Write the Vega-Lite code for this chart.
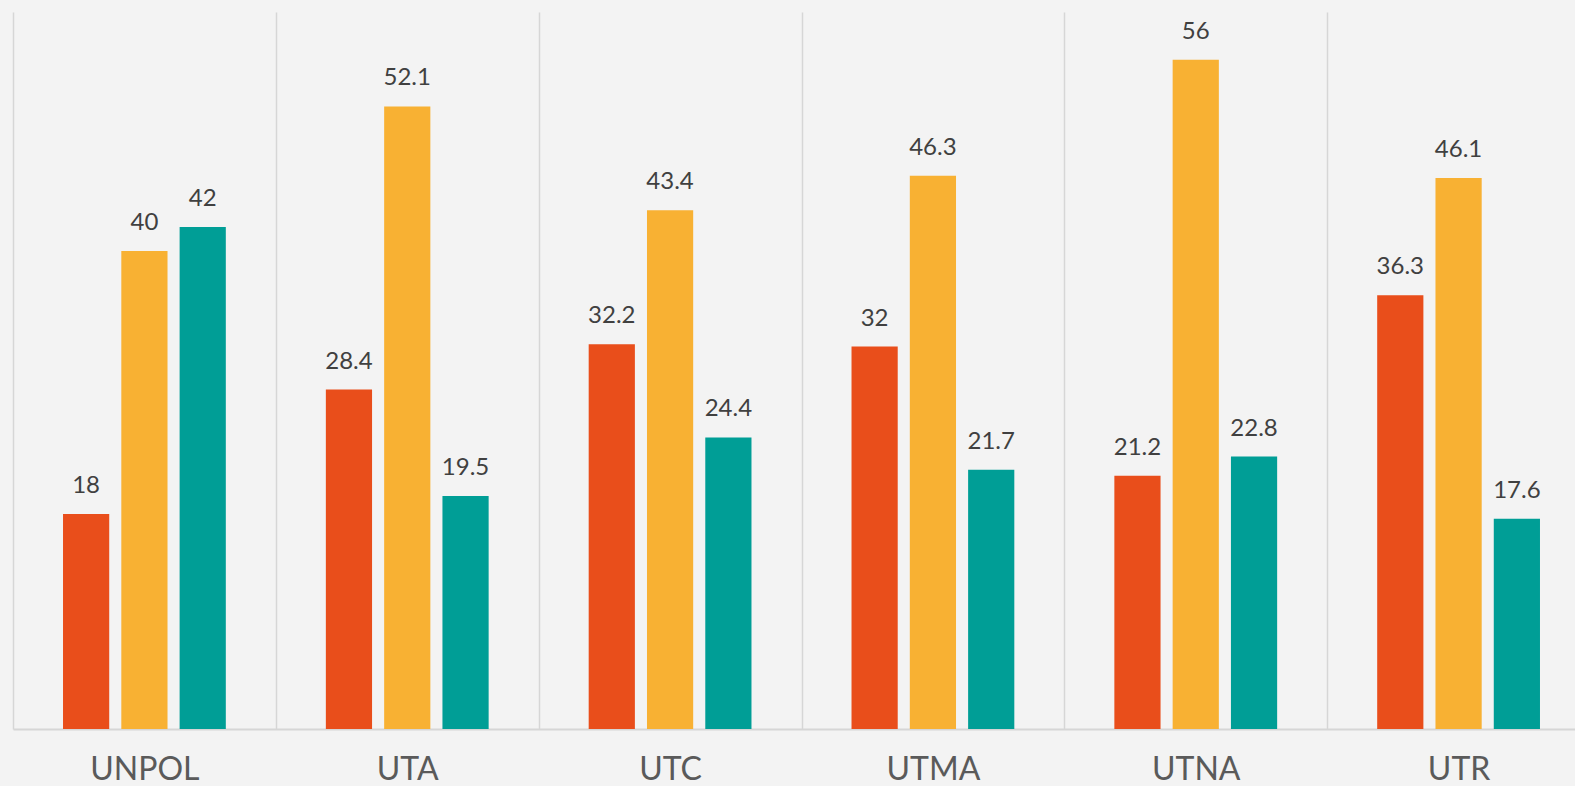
{
  "$schema": "https://vega.github.io/schema/vega-lite/v6.json",
  "width": 1577,
  "height": 717,
  "autosize": {"type": "none"},
  "padding": {"left": 13, "top": 12, "right": 0, "bottom": 57},
  "background": "#f3f3f3",
  "config": {"view": {"stroke": null}, "font": "Lato"},
  "data": {"values": [
    {"group": "UNPOL", "series": "A", "value": 18},
    {"group": "UNPOL", "series": "B", "value": 40},
    {"group": "UNPOL", "series": "C", "value": 42},
    {"group": "UTA", "series": "A", "value": 28.4},
    {"group": "UTA", "series": "B", "value": 52.1},
    {"group": "UTA", "series": "C", "value": 19.5},
    {"group": "UTC", "series": "A", "value": 32.2},
    {"group": "UTC", "series": "B", "value": 43.4},
    {"group": "UTC", "series": "C", "value": 24.4},
    {"group": "UTMA", "series": "A", "value": 32},
    {"group": "UTMA", "series": "B", "value": 46.3},
    {"group": "UTMA", "series": "C", "value": 21.7},
    {"group": "UTNA", "series": "A", "value": 21.2},
    {"group": "UTNA", "series": "B", "value": 56},
    {"group": "UTNA", "series": "C", "value": 22.8},
    {"group": "UTR", "series": "A", "value": 36.3},
    {"group": "UTR", "series": "B", "value": 46.1},
    {"group": "UTR", "series": "C", "value": 17.6}
  ]},
  "encoding": {
    "x": {
      "field": "group", "type": "nominal", "sort": null,
      "scale": {"paddingInner": 0, "paddingOuter": 0},
      "axis": {
        "title": null, "tickBand": "extent", "grid": true,
        "gridColor": "#d6d6d6", "gridWidth": 1.5, "ticks": false,
        "domainColor": "#d6d6d6", "domainWidth": 2,
        "labelFont": "Lato", "labelFontSize": 32, "labelColor": "#5a5a5a",
        "labelAngle": 0, "labelPadding": 25, "labelBaseline": "top"
      }
    },
    "xOffset": {
      "field": "series", "type": "nominal", "sort": null,
      "scale": {"paddingInner": 0.2075, "paddingOuter": 0.858}
    },
    "y": {"field": "value", "type": "quantitative", "scale": {"domain": [0, 60]}, "axis": null}
  },
  "layer": [
    {
      "mark": {"type": "bar"},
      "encoding": {
        "color": {
          "field": "series", "type": "nominal",
          "scale": {"domain": ["A", "B", "C"], "range": ["#E94E1B", "#F8B133", "#009E96"]},
          "legend": null
        }
      }
    },
    {
      "mark": {"type": "text", "dy": -21, "baseline": "alphabetic", "fontSize": 24, "color": "#404040", "font": "Lato"},
      "encoding": {"text": {"field": "value", "type": "quantitative"}}
    }
  ]
}
